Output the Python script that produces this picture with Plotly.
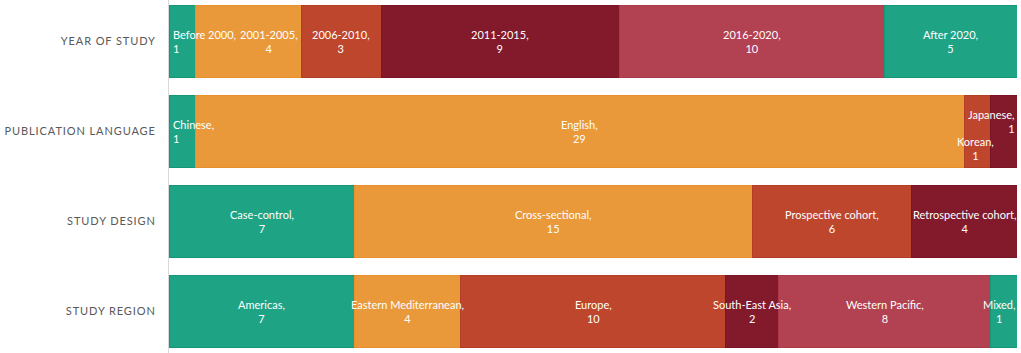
import plotly.graph_objects as go

# ---- data ----
rows = ["YEAR OF STUDY", "PUBLICATION LANGUAGE", "STUDY DESIGN", "STUDY REGION"]

year_labels = ["Before 2000", "2001-2005", "2006-2010", "2011-2015", "2016-2020", "After 2020"]
year_counts = [1, 4, 3, 9, 10, 5]

language_labels = ["Chinese", "English", "Korean", "Japanese"]
language_counts = [1, 29, 1, 1]

design_labels = ["Case-control", "Cross-sectional", "Prospective cohort", "Retrospective cohort"]
design_counts = [7, 15, 6, 4]

region_labels = ["Americas", "Eastern Mediterranean", "Europe", "South-East Asia", "Western Pacific", "Mixed"]
region_counts = [7, 4, 10, 2, 8, 1]

# ---- styles ----
TEAL = "#1ea385"
ORANGE = "#e9993a"
REDOR = "#be462d"
DARKRED = "#821a2c"
PINK = "#b24152"
EDGE = {TEAL: "#16957a", ORANGE: "#e8902c", REDOR: "#b33d26", DARKRED: "#7a1527", PINK: "#ab3a4b"}

row_colors = {
    "YEAR OF STUDY": [TEAL, ORANGE, REDOR, DARKRED, PINK, TEAL],
    "PUBLICATION LANGUAGE": [TEAL, ORANGE, REDOR, DARKRED],
    "STUDY DESIGN": [TEAL, ORANGE, REDOR, DARKRED],
    "STUDY REGION": [TEAL, ORANGE, REDOR, DARKRED, PINK, TEAL],
}
row_data = {
    "YEAR OF STUDY": (year_labels, year_counts),
    "PUBLICATION LANGUAGE": (language_labels, language_counts),
    "STUDY DESIGN": (design_labels, design_counts),
    "STUDY REGION": (region_labels, region_counts),
}

# label placement overrides: (anchor mode, align, xshift, yshift)
label_style = {
    "Before 2000": ("left", "left", 2, 0),
    "2001-2005": ("center", "center", 20, 0),
    "Chinese": ("left", "left", 2, 0),
    "Japanese": ("right", "right", 0, 10),
    "Korean": ("center", "center", -2, -17),
    "Mixed": ("right", "center", 0, 0),
}

fig = go.Figure()
annotations = []
for row in rows:
    labels, counts = row_data[row]
    colors = row_colors[row]
    start = 0
    for lab, val, col in zip(labels, counts, colors):
        fig.add_trace(go.Bar(
            x=[val], y=[row], orientation="h",
            marker=dict(color=col, line=dict(color=EDGE[col], width=1)),
            showlegend=False, hoverinfo="x+y", name=lab,
        ))
        mode, align, xsh, ysh = label_style.get(lab, ("center", "center", 0, 0))
        if mode == "left":
            ax, xa = start, "left"
        elif mode == "right":
            ax, xa = start + val, "right"
        else:
            ax, xa = start + val / 2, "center"
        annotations.append(dict(
            x=ax, y=row, xref="x", yref="y", text=f"{lab},<br>{val}",
            showarrow=False, xanchor=xa, align=align, xshift=xsh, yshift=ysh,
            font=dict(family="Lato", size=11, color="white"),
        ))
        start += val

fig.update_layout(
    barmode="stack",
    bargap=0.2,
    width=1021, height=353,
    margin=dict(l=169, r=4, t=0, b=0),
    plot_bgcolor="white", paper_bgcolor="white",
    annotations=annotations,
    xaxis=dict(visible=False, range=[0, 32], fixedrange=True),
    yaxis=dict(
        categoryorder="array", categoryarray=rows,
        range=[3.461, -0.461],
        showline=True, linecolor="#d9d9d9", linewidth=1,
        showgrid=False, zeroline=False, ticks="",
        ticklabelstandoff=10, automargin=False,
        tickfont=dict(family="Lato", size=11, color="#595959"),
    ),
)

post = ("document.body.style.margin='0';"
        "document.body.style.overflow='hidden';"
        "document.querySelectorAll('.ytick text').forEach(function(t){"
        "t.style.letterSpacing='0.9px';});")
fig.write_html("out.html", post_script=post, config={"displayModeBar": False})
